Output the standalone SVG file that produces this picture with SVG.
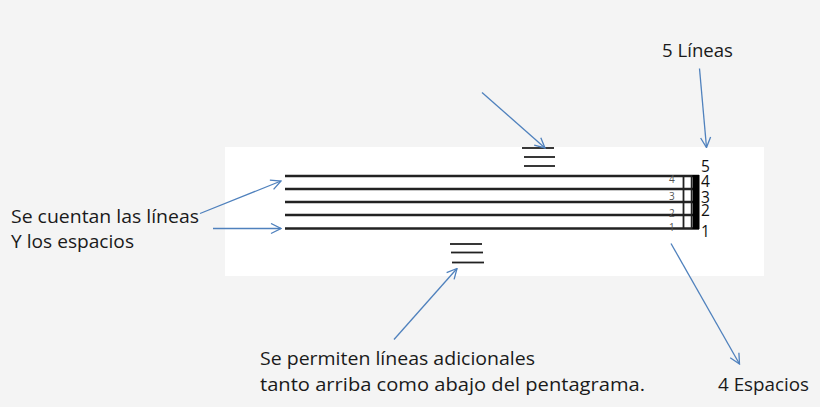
<svg xmlns="http://www.w3.org/2000/svg" width="820" height="407" viewBox="0 0 820 407">
<defs>
<style>
.txt{font-family:"Open Sans","Liberation Sans",sans-serif;font-size:19px;fill:#1a1a1a}
.big{font-family:"Open Sans","Liberation Sans",sans-serif;font-size:15.5px;fill:#111}
.small{font-family:"Open Sans","Liberation Sans",sans-serif;font-size:10px;fill:#555}
.staff{stroke:#222;stroke-width:2.4}
.ledger{stroke:#222;stroke-width:1.8}
.arrow{stroke:#4f81bd;stroke-width:1.3;fill:none;marker-end:url(#ah)}
</style>
<marker id="ah" viewBox="0 0 12 12" refX="11" refY="6" markerWidth="12" markerHeight="12" markerUnits="userSpaceOnUse" orient="auto">
<path d="M1,1 L11,6 L1,11" fill="none" stroke="#4f81bd" stroke-width="1.3"/>
</marker>
</defs>
<rect x="0" y="0" width="820" height="407" fill="#f4f4f4"/>
<rect x="225" y="147" width="539" height="129" fill="#ffffff"/>

<g id="staff">
<line class="staff" x1="285" y1="176" x2="699" y2="176"/>
<line class="staff" x1="285" y1="189" x2="699" y2="189"/>
<line class="staff" x1="285" y1="202" x2="699" y2="202"/>
<line class="staff" x1="285" y1="215" x2="699" y2="215"/>
<line class="staff" x1="285" y1="228.5" x2="699" y2="228.5"/>
<line x1="683.5" y1="175" x2="683.5" y2="229" stroke="#222" stroke-width="1.8"/>
<line x1="691.5" y1="175" x2="691.5" y2="229" stroke="#222" stroke-width="1.5"/>
<rect x="692.5" y="175" width="7" height="54" fill="#000"/>
</g>

<g id="ledger-top">
<line class="ledger" x1="522" y1="148" x2="554" y2="148"/>
<line class="ledger" x1="524" y1="157" x2="555" y2="157"/>
<line class="ledger" x1="524" y1="166" x2="555" y2="166"/>
</g>
<g id="ledger-bottom">
<line class="ledger" x1="450" y1="244" x2="482" y2="244"/>
<line class="ledger" x1="451" y1="252.5" x2="483" y2="252.5"/>
<line class="ledger" x1="452" y1="262.5" x2="484" y2="262.5"/>
</g>

<g id="space-numbers">
<text class="small" x="669" y="182.5">4</text>
<text class="small" x="669" y="200">3</text>
<text class="small" x="669" y="217">2</text>
<text class="small" x="669" y="230.5">1</text>
</g>
<g id="line-numbers">
<text class="big" x="701" y="171.5">5</text>
<text class="big" x="701" y="187">4</text>
<text class="big" x="701" y="202.5">3</text>
<text class="big" x="701" y="216">2</text>
<text class="big" x="701" y="237">1</text>
</g>

<g id="label-left">
<text class="txt" x="11" y="222.5" textLength="188" lengthAdjust="spacingAndGlyphs">Se cuentan las líneas</text>
<text class="txt" x="11" y="247.5" textLength="123" lengthAdjust="spacingAndGlyphs">Y los espacios</text>
</g>
<g id="label-lines">
<text class="txt" x="662" y="56.5" textLength="71" lengthAdjust="spacingAndGlyphs">5 Líneas</text>
</g>
<g id="label-spaces">
<text class="txt" x="718" y="390.5" textLength="91" lengthAdjust="spacingAndGlyphs">4 Espacios</text>
</g>
<g id="label-bottom">
<text class="txt" x="260" y="365" textLength="275" lengthAdjust="spacingAndGlyphs">Se permiten líneas adicionales</text>
<text class="txt" x="260" y="390.5" textLength="385" lengthAdjust="spacingAndGlyphs">tanto arriba como abajo del pentagrama.</text>
</g>

<g id="connectors">
<line class="arrow" x1="200" y1="213.5" x2="281" y2="181"/>
<line class="arrow" x1="213" y1="228.5" x2="281" y2="228.5"/>
<line class="arrow" x1="482" y1="92.5" x2="545" y2="148"/>
<line class="arrow" x1="699.5" y1="68.5" x2="706.5" y2="147.5"/>
<line class="arrow" x1="671" y1="243.5" x2="739.5" y2="364"/>
<line class="arrow" x1="394" y1="339.5" x2="457" y2="268.5"/>
</g>
</svg>
